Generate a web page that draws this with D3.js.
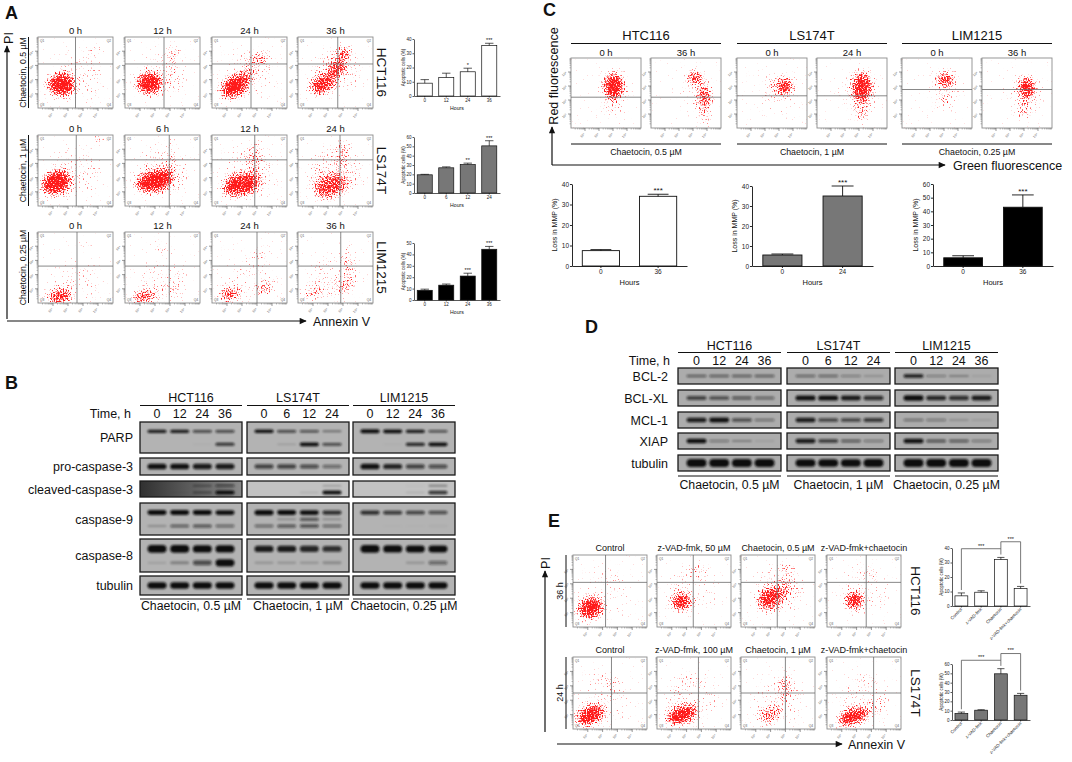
<!DOCTYPE html>
<html lang="en">
<head>
<meta charset="UTF-8">
<title>Chaetocin induces apoptosis</title>
<style>
  body { margin: 0; background: #fff; }
  svg text { font-family: "Liberation Sans", Arial, sans-serif; }
</style>
</head>
<body>
<script src="https://cdn.jsdelivr.net/npm/d3@7"></script>
<script>
// ---------- data ----------
const cellLines = ["HCT116", "LS174T", "LIM1215"];
const dosesA = ["Chaetocin, 0.5 µM", "Chaetocin, 1 µM", "Chaetocin, 0.25 µM"];
const timesA = [["0 h", "12 h", "24 h", "36 h"], ["0 h", "6 h", "12 h", "24 h"], ["0 h", "12 h", "24 h", "36 h"]];
const laneLabels = [["0", "12", "24", "36"], ["0", "6", "12", "24"], ["0", "12", "24", "36"]];

// flow gates (log decades)
const gateXA = [[2.5, 2.6, 2.6, 2.65], [2.55, 2.95, 2.85, 2.8], [2.6, 2.95, 3.0, 2.85]];
const gateYA = [3.1, 3.25, 2.6];
// event clouds: [annexin, PI, spreadX, spreadY, density, tilt]
const flowA = [
  [
    [[1.55, 1.65, .9, .8, 1, 0], [3.9, 4.05, .35, .2, .8, 0], [2.75, 2.2, 1.6, 1.8, .16, 0]],
    [[1.6, 1.75, .85, .75, 1, -10], [3.3, 4.0, .6, .15, .9, 0], [3.15, 2.5, .25, 1.25, .28, 0], [2.5, 2.3, 1.5, 1.7, .14, 0]],
    [[1.5, 1.5, 1.0, .7, 1, -30], [2.4, 2.45, .6, .4, .55, -30], [3.2, 3.5, .5, .3, .8, 0], [2.6, 2.5, 1.6, 1.7, .16, 0]],
    [[1.6, 1.65, .9, .6, .9, -30], [2.6, 2.8, .6, .6, .8, 0], [3.05, 3.85, .45, .45, .8, 0], [2.6, 2.6, 1.6, 1.6, .18, 0]]
  ],
  [
    [[1.2, 1.65, 1.0, .8, 1, -25], [4.1, 4.7, .4, .15, 1, 0], [2.5, 2.3, 1.7, 1.8, .16, 0]],
    [[1.95, 1.75, 1.3, .7, 1, -15], [3.05, 4.4, .35, .12, .9, 0], [3.0, 2.5, .3, 1.2, .32, 0], [2.5, 2.4, 1.8, 1.8, .18, 0]],
    [[1.95, 1.5, 1.3, .75, .9, -15], [2.85, 3.25, .3, .9, .45, 0], [2.95, 4.3, .25, .15, .9, 0], [2.5, 2.4, 1.8, 1.8, .18, 0]],
    [[2.15, 1.4, 1.2, .8, .7, -25], [2.95, 3.5, .25, 1.0, .5, 0], [3.05, 4.4, .25, .2, .8, 0], [2.5, 2.4, 1.8, 1.8, .2, 0]]
  ],
  [
    [[1.45, .45, .85, .45, .9, -10], [3.0, 3.95, .5, .15, .4, 0], [2.5, 1.5, 1.6, 1.5, .14, 0]],
    [[1.25, .45, .85, .4, .8, -10], [2.6, 3.85, .7, .15, .7, 0], [3.05, .95, .5, .35, .35, 0], [2.5, 1.5, 1.6, 1.5, .14, 0]],
    [[1.15, .6, .7, .4, .85, 0], [3.55, 1.05, .6, .35, .6, -20], [3.3, 3.6, .4, .4, .35, 0], [2.5, 1.8, 1.6, 1.6, .14, 0]],
    [[1.0, .7, .8, .4, .5, -15], [3.05, 1.15, .6, .35, .5, -20], [3.35, 2.8, .2, 1.3, .55, 0], [2.5, 1.8, 1.6, 1.6, .16, 0]]
  ]
];

const hoursA = laneLabels;
const apoptoticA = [[9, 13, 17, 35.5], [19.5, 27, 30.5, 50.5], [8.5, 13, 21, 44.5]];
const apoptoticErrA = [[2.5, 3, 2.5, 1.5], [0.5, 1, 1.5, 5.5], [1, 1, 2.5, 2.5]];
const signifA = [["", "", "*", "***"], ["", "", "**", "***"], ["", "", "***", "***"]];
const yMaxA = [40, 60, 50];

// panel C
const mmpLines = ["HTC116", "LS174T", "LIM1215"];
const mmpTimes = [["0 h", "36 h"], ["0 h", "24 h"], ["0 h", "36 h"]];
const mmpGateY = [2.2, 2.2, 2.3, 2.3, 2.75, 2.75];
const flowC = [
  [[3.05, 3.0, .7, .9, 1, 0], [3.1, 1.5, .35, 1.1, .3, 0], [3.0, 2.6, 1.2, 1.5, .1, 0]],
  [[3.15, 3.6, .5, .5, .9, 0], [3.8, 2.25, .4, .9, .85, 0], [3.8, 1.0, .35, .8, .4, 0], [3.3, 2.5, 1.2, 1.5, .1, 0]],
  [[3.45, 3.0, .45, .6, 1, 0], [2.7, 2.8, .6, .6, .3, 0], [3.0, 2.5, 1.4, 1.6, .12, 0]],
  [[3.2, 2.9, .7, 1.1, .9, 0], [3.2, 1.05, .5, .7, .45, 0], [3.0, 2.5, 1.4, 1.6, .12, 0]],
  [[3.1, 3.45, .65, .4, 1, 0], [3.1, 2.0, .45, .7, .3, 0], [3.0, 2.8, 1.3, 1.4, .1, 0]],
  [[3.2, 2.85, .6, .75, .95, 0], [3.0, 1.3, .45, .8, .45, 0], [3.0, 2.6, 1.3, 1.5, .1, 0]]
];
const mmpHours = [["0", "36"], ["0", "24"], ["0", "36"]];
const mmpLoss = [[7.5, 34], [5.5, 35], [6, 43]];
const mmpErr = [[0.5, 1], [0.5, 5], [1.5, 9]];
const mmpYMax = [40, 40, 60];

// panel B
const proteinsB = ["PARP", "pro-caspase-3", "cleaved-caspase-3", "caspase-9", "caspase-8", "tubulin"];
const parpB = [[[.8, .8, .6, .6], [.85, .6, .55, .35], [1, .9, .8, .55]], [[0, 0, .05, .7], [0, .15, .95, .6], [0, .05, .75, .9]]];
const proCasp3B = [[[.85, .85, .8, .8], [.6, .6, .55, .4], [.85, .75, .6, .55]]];
const clCasp3B = [[[0, 0, .3, .5], [0, 0, 0, .2], [0, 0, .05, .3]], [[0, .05, .35, .95], [0, 0, .1, .85], [0, 0, .1, .7]]];
const casp9B = [[[.9, .9, .9, .85], [.95, .9, .85, .7], [.7, .65, .6, .55]], [[0, 0, 0, 0], [0, .2, .5, .2], [0, 0, 0, 0]], [[.2, .45, .5, .4], [.4, .5, .55, .4], [0, .03, .03, .05]]];
const casp8B = [[[1, 1, .95, .95], [.8, .8, .75, .7], [1, .95, .9, .9]], [[.1, .25, .55, .95], [.15, .15, .15, .2], [0, 0, .15, .4]]];
const tubulinB = [[[.9, .9, .9, .9], [.9, .9, .9, .9], [.9, .9, .9, .9]]];

// panel D
const proteinsD = ["BCL-2", "BCL-XL", "MCL-1", "XIAP", "tubulin"];
const bcl2D = [[[.45, .45, .45, .45], [.4, .4, .3, .2], [.8, .3, .25, .1]]];
const bclxlD = [[[.6, .55, .45, .4], [.85, .85, .8, .7], [.9, .75, .7, .8]]];
const mcl1D = [[[.8, .85, .55, .35], [.8, .6, .6, .65], [.35, .3, .15, .12]]];
const xiapD = [[[.9, .3, .25, .1], [.8, .65, .45, .3], [.85, .5, .45, .3]]];
const tubulinD = [[[.95, .95, .95, .95], [.9, .9, .9, .95], [.95, .95, .95, .95]]];

// panel E
const zvadTitles = [["Control", "z-VAD-fmk, 50 µM", "Chaetocin, 0.5 µM", "z-VAD-fmk+chaetocin"],
                    ["Control", "z-VAD-fmk, 100 µM", "Chaetocin, 1 µM", "z-VAD-fmk+chaetocin"]];
const zvadLines = ["HCT116", "LS174T"];
const zvadTimes = ["36 h", "24 h"];
const zvadGateX = [[2.2, 2.45, 2.45, 2.65], [2.6, 2.8, 3.0, 3.15]];
const zvadGateY = [3.1, 2.5];
const flowE = [
  [
    [[1.15, 1.3, .85, .7, 1, -20], [2.65, 4.1, .8, .12, .35, 0], [2.2, 2.2, 1.7, 1.7, .12, 0]],
    [[1.65, 1.75, .65, .55, 1, -20], [2.7, 3.95, .55, .2, .6, 0], [2.4, 2.6, 1.6, 1.7, .14, 0]],
    [[1.95, 2.0, .9, .7, .85, -35], [3.15, 4.1, .4, .2, .7, 0], [3.05, 2.65, .35, .75, .45, 0], [2.6, 2.6, 1.7, 1.7, .18, 0]],
    [[1.85, 1.85, .6, .55, 1, -20], [2.85, 3.85, .6, .15, .55, 0], [2.5, 2.6, 1.6, 1.7, .12, 0]]
  ],
  [
    [[1.15, .95, 1.0, .6, 1, -25], [1.85, 3.55, .8, .15, .35, 0], [2.65, 2.85, .2, .6, .3, 0], [2.2, 2.0, 1.7, 1.7, .14, 0]],
    [[1.65, .95, 1.1, .55, 1, -20], [2.3, 3.55, 1.0, .15, .4, 0], [2.4, 2.0, 1.8, 1.7, .16, 0]],
    [[1.95, .95, .9, .5, .55, -25], [3.0, 3.0, .2, 1.1, .65, 0], [2.5, 2.0, 1.7, 1.7, .16, 0]],
    [[1.75, .85, 1.1, .5, 1, -20], [3.15, 1.55, .9, .15, .6, -30], [2.75, 3.55, .8, .15, .4, 0], [2.5, 2.0, 1.7, 1.7, .14, 0]]
  ]
];
const zvadGroups = ["Control", "z-VAD-fmk", "Chaetocin", "z-VAD-fmk+chaetocin"];
const zvadApop = [[7, 9.5, 32, 12], [7, 10.5, 49.5, 26.5]];
const zvadErr = [[2, 1, 1.5, 1.5], [1.5, 0.5, 5.5, 2]];
const zvadYMax = [40, 60];

const flowTicks = [1, 2, 3, 4];
const flowTickLabels = ["10¹", "10²", "10³", "10⁴"];

// ---------- drawing ----------
const svg = d3.select('body').append('svg').attr('width', 1072).attr('height', 762).style('display', 'block');
const defs = svg.append('defs');

defs.append('marker').attr('id', 'arrow').attr('viewBox', '0 0 10 10')
  .attr('refX', 9).attr('refY', 5).attr('markerWidth', 8).attr('markerHeight', 7)
  .attr('markerUnits', 'userSpaceOnUse').attr('orient', 'auto')
  .append('path').attr('d', 'M0,0.5 L10,5 L0,9.5 Z').attr('fill', '#111');

// grainy red clouds for the dot plots: blurred density x grain, thresholded
[0, 1, 2, 3].forEach(k => {
  const f = defs.append('filter').attr('id', 'speck' + k).attr('filterUnits', 'userSpaceOnUse')
    .attr('x', -10).attr('y', -10).attr('width', 100).attr('height', 100)
    .attr('color-interpolation-filters', 'sRGB');
  f.append('feGaussianBlur').attr('in', 'SourceGraphic').attr('stdDeviation', 4).attr('result', 'b');
  f.append('feTurbulence').attr('type', 'fractalNoise').attr('baseFrequency', 0.75)
    .attr('numOctaves', 1).attr('seed', 3 + k * 7).attr('result', 'n');
  f.append('feColorMatrix').attr('in', 'n').attr('type', 'matrix')
    .attr('values', '0 0 0 0 1  0 0 0 0 0  0 0 0 0 0  2 0 0 0 -0.5').attr('result', 'na');
  f.append('feComposite').attr('in', 'b').attr('in2', 'na').attr('operator', 'arithmetic')
    .attr('k1', 0).attr('k2', 1).attr('k3', 1).attr('k4', -0.95).attr('result', 'c');
  f.append('feColorMatrix').attr('in', 'c').attr('type', 'matrix')
    .attr('values', '0 0 0 0 1  0 0 0 0 0.1  0 0 0 0 0.1  0 0 0 3 0');
});

const bandBlur = defs.append('filter').attr('id', 'bandBlur')
  .attr('x', '-50%').attr('y', '-150%').attr('width', '200%').attr('height', '400%');
bandBlur.append('feGaussianBlur').attr('stdDeviation', 0.9);

const darkBlot = defs.append('linearGradient').attr('id', 'darkBlot');
darkBlot.append('stop').attr('offset', '0%').attr('stop-color', '#303030');
darkBlot.append('stop').attr('offset', '100%').attr('stop-color', '#8a8a8a');

function txt(parent, x, y, s, size, o = {}) {
  const t = parent.append('text').attr('x', x).attr('y', y).attr('font-size', size)
    .attr('fill', o.fill || '#111').text(s);
  if (o.anchor) t.attr('text-anchor', o.anchor);
  if (o.rotate) t.attr('transform', `rotate(${o.rotate} ${x} ${y})`);
  if (o.weight) t.attr('font-weight', o.weight);
  return t;
}
function line(x1, y1, x2, y2, w = 1, c = '#111', arrow = false) {
  const l = svg.append('line').attr('x1', x1).attr('y1', y1).attr('x2', x2).attr('y2', y2)
    .attr('stroke', c).attr('stroke-width', w);
  if (arrow) l.attr('marker-end', 'url(#arrow)');
  return l;
}

let plotN = 0;
function flowPlot(left, top, w, h, clusters, gx, gy, quads) {
  const x = d3.scaleLinear().domain([0, 5]).range([0, w]);
  const y = d3.scaleLinear().domain([0, 5]).range([h, 0]);
  const g = svg.append('g').attr('transform', `translate(${left},${top})`);
  const id = 'fc' + plotN;
  defs.append('clipPath').attr('id', id).append('rect').attr('width', w).attr('height', h);
  g.append('g').attr('clip-path', `url(#${id})`)
    .append('g').attr('filter', `url(#speck${plotN % 4})`)
    .selectAll('ellipse').data(clusters).join('ellipse')
    .attr('cx', d => x(d[0])).attr('cy', d => y(d[1]))
    .attr('rx', d => x(d[2]) - x(0)).attr('ry', d => y(0) - y(d[3]))
    .attr('transform', d => `rotate(${d[5]} ${x(d[0])} ${y(d[1])})`)
    .attr('fill', '#ff0000').attr('fill-opacity', d => d[4]);
  plotN++;

  g.append('rect').attr('width', w).attr('height', h).attr('fill', 'none')
    .attr('stroke', '#8c8c8c').attr('stroke-width', 0.9);
  if (gx != null) g.append('line').attr('x1', x(gx)).attr('x2', x(gx)).attr('y1', 0).attr('y2', h)
    .attr('stroke', '#6a6a6a').attr('stroke-width', 0.8);
  if (gy != null) g.append('line').attr('x1', 0).attr('x2', w).attr('y1', y(gy)).attr('y2', y(gy))
    .attr('stroke', '#6a6a6a').attr('stroke-width', 0.8);

  const minor = d3.range(0, 5).flatMap(d => [2, 3, 4, 5, 6, 7, 8, 9].map(k => d + Math.log10(k)));
  g.selectAll(null).data(minor).join('line')
    .attr('x1', d => x(d)).attr('x2', d => x(d)).attr('y1', h).attr('y2', h + 1.5)
    .attr('stroke', '#777').attr('stroke-width', 0.5);
  g.selectAll(null).data(flowTicks).join('line')
    .attr('x1', d => x(d)).attr('x2', d => x(d)).attr('y1', h).attr('y2', h + 3)
    .attr('stroke', '#555').attr('stroke-width', 0.6);
  g.selectAll(null).data(minor).join('line')
    .attr('y1', d => y(d)).attr('y2', d => y(d)).attr('x1', 0).attr('x2', -1.5)
    .attr('stroke', '#777').attr('stroke-width', 0.5);
  g.selectAll(null).data(flowTicks).join('line')
    .attr('y1', d => y(d)).attr('y2', d => y(d)).attr('x1', 0).attr('x2', -3)
    .attr('stroke', '#555').attr('stroke-width', 0.6);
  flowTicks.forEach((t, i) => {
    txt(g, x(t), h + 6.5, flowTickLabels[i], 3.4, {anchor: 'end', rotate: -45, fill: '#555'});
    txt(g, -4, y(t) + 1, flowTickLabels[i], 3.4, {anchor: 'end', rotate: -45, fill: '#555'});
  });
  if (quads) {
    txt(g, 2, 4.5, 'Q1', 3.2, {fill: '#555'});
    txt(g, w - 2, 4.5, 'Q2', 3.2, {anchor: 'end', fill: '#555'});
    txt(g, 2, h - 2, 'Q3', 3.2, {fill: '#555'});
    txt(g, w - 2, h - 2, 'Q4', 3.2, {anchor: 'end', fill: '#555'});
  }
}

function barChart(o) {
  const x = d3.scaleBand().domain(o.cats).range([0, o.w]).paddingInner(o.pad).paddingOuter(o.outer);
  const y = d3.scaleLinear().domain([0, o.yMax]).range([o.h, 0]);
  const g = svg.append('g').attr('transform', `translate(${o.left},${o.top})`);
  const ya = g.append('g').call(d3.axisLeft(y).tickValues(d3.range(0, o.yMax + 1, 10))
    .tickSize(o.tick).tickSizeOuter(0).tickPadding(1));
  const xa = g.append('g').attr('transform', `translate(0,${o.h})`)
    .call(d3.axisBottom(x).tickSize(o.tick).tickSizeOuter(0).tickPadding(1));
  [ya, xa].forEach(a => {
    a.attr('font-size', null).attr('font-family', null);
    a.select('.domain').attr('stroke', '#111').attr('stroke-width', o.sw);
    a.selectAll('.tick line').attr('stroke', '#111').attr('stroke-width', o.sw);
    a.selectAll('text').attr('font-size', o.fs).attr('fill', '#222');
  });
  if (o.rotateCats) {
    xa.selectAll('text').attr('text-anchor', 'end').attr('dx', '-0.4em').attr('dy', '0.2em')
      .attr('transform', 'rotate(-45)');
  }
  const cx = i => x(o.cats[i]) + x.bandwidth() / 2;
  g.selectAll('rect.bar').data(o.vals).join('rect').attr('class', 'bar')
    .attr('x', (d, i) => x(o.cats[i])).attr('y', d => y(d))
    .attr('width', x.bandwidth()).attr('height', d => o.h - y(d))
    .attr('fill', o.fill).attr('stroke', '#111').attr('stroke-width', o.sw);
  o.vals.forEach((v, i) => {
    const top = y(v + o.errs[i]);
    g.append('line').attr('x1', cx(i)).attr('x2', cx(i)).attr('y1', y(v)).attr('y2', top)
      .attr('stroke', '#111').attr('stroke-width', o.sw);
    g.append('line').attr('x1', cx(i) - x.bandwidth() * 0.28).attr('x2', cx(i) + x.bandwidth() * 0.28)
      .attr('y1', top).attr('y2', top).attr('stroke', '#111').attr('stroke-width', o.sw);
    if (o.stars && o.stars[i]) txt(g, cx(i), top - 1.2, o.stars[i], o.starFs, {anchor: 'middle'});
  });
  txt(g, -o.yLabOff, o.h / 2, o.yLabel, o.labFs, {anchor: 'middle', rotate: -90});
  if (o.xLabel) txt(g, o.w / 2, o.h + o.xLabOff, o.xLabel, o.xFs, {anchor: 'middle'});
  return {g, x, y, cx};
}

function blot(x0, y0, w, h, forms, ci, lx, lanes, thick, bg, bandW) {
  svg.append('rect').attr('x', x0).attr('y', y0).attr('width', w).attr('height', h)
    .attr('fill', bg).attr('stroke', '#1a1a1a').attr('stroke-width', 1.3);
  const fy = forms.length === 1 ? () => y0 + h / 2
    : d3.scalePoint().domain(d3.range(forms.length)).range([y0 + h * 0.3, y0 + h * 0.72]);
  forms.forEach((form, fi) => {
    form[ci].forEach((v, i) => {
      if (v <= 0) return;
      const ry = (0.8 + 2.8 * v) * thick;
      svg.append('rect').attr('x', lx(lanes[i]) - bandW / 2).attr('y', fy(fi) - ry)
        .attr('width', bandW).attr('height', 2 * ry).attr('rx', ry).attr('ry', ry)
        .attr('fill', '#111').attr('fill-opacity', Math.min(1, v * 1.15))
        .attr('filter', 'url(#bandBlur)');
    });
  });
}

function westernPanel(p) {
  cellLines.forEach((cl, ci) => {
    const bx = p.boxX[ci];
    txt(svg, bx + p.boxW / 2, p.titleY, cl, 12.5, {anchor: 'middle'});
    line(bx, p.lineY, bx + p.boxW, p.lineY, 1);
    const lx = d3.scalePoint().domain(laneLabels[ci])
      .range([bx + p.boxW * p.laneRange[0], bx + p.boxW * p.laneRange[1]]);
    laneLabels[ci].forEach(l => txt(svg, lx(l), p.laneY, l, 12.5, {anchor: 'middle'}));
    p.proteins.forEach((pr, ri) => {
      blot(bx, p.rows[ri][0], p.boxW, p.rows[ri][1], p.bands[ri], ci, lx, laneLabels[ci],
        p.thick[ri], p.bg(ri, ci), p.bandW);
    });
    line(bx, p.bottomY, bx + p.boxW, p.bottomY, 1);
    txt(svg, bx + p.boxW / 2, p.doseY, dosesA[ci], 12.3, {anchor: 'middle'});
  });
  txt(svg, p.timeX, p.laneY, 'Time, h', 12.5, {anchor: 'end'});
  p.proteins.forEach((pr, ri) => txt(svg, p.labelX, p.rows[ri][0] + p.rows[ri][1] / 2 + 4.5, pr, 12.5, {anchor: 'end'}));
}

// ===== Panel A =====
txt(svg, 5, 19, 'A', 18, {weight: 'bold'});
const aLeft = [38, 125, 212, 298], aTop = [37, 135, 232], aW = 75, aH = 71;
cellLines.forEach((cl, r) => {
  timesA[r].forEach((t, c) => {
    flowPlot(aLeft[c], aTop[r], aW, aH, flowA[r][c], gateXA[r][c], gateYA[r], true);
    txt(svg, aLeft[c] + aW / 2, aTop[r] - 3, t, 9.5, {anchor: 'middle'});
  });
  const cy = aTop[r] + aH / 2;
  txt(svg, 26, cy, dosesA[r], 8.7, {anchor: 'middle', rotate: -90});
  line(28.5, aTop[r], 28.5, aTop[r] + aH, 1);
  txt(svg, 377, cy, cl, 13.5, {anchor: 'middle', rotate: 90});
});
line(7, 319, 7, 46, 1.2, '#111', true);
txt(svg, 13, 38, 'PI', 12.5, {anchor: 'middle', rotate: -90});
line(7, 321, 306, 321, 1.2, '#111', true);
txt(svg, 313, 325.5, 'Annexin V', 12.5);

const aBarTop = [39, 137, 243], aBarH = [57, 56, 57], aFill = ['#fff', '#777', '#000'];
cellLines.forEach((cl, r) => {
  barChart({
    left: 414, top: aBarTop[r], w: 86, h: aBarH[r], cats: hoursA[r], vals: apoptoticA[r],
    errs: apoptoticErrA[r], stars: signifA[r], yMax: yMaxA[r], fill: aFill[r],
    pad: 0.3, outer: 0.15, tick: 1.5, sw: 0.7, fs: 4.5, starFs: 5.5,
    yLabel: 'Apoptotic cells (%)', yLabOff: 9.5, labFs: 4.5, xLabel: 'Hours', xLabOff: 13.5, xFs: 5.2
  });
});

// ===== Panel B =====
txt(svg, 5, 389, 'B', 18, {weight: 'bold'});
westernPanel({
  boxX: [140, 247, 353], boxW: 102, laneRange: [0.167, 0.833], bandW: 19,
  rows: [[422, 31], [458, 17], [481, 16], [503, 32], [539, 33], [576, 19]],
  proteins: proteinsB, bands: [parpB, proCasp3B, clCasp3B, casp9B, casp8B, tubulinB],
  thick: [0.55, 0.9, 0.6, 0.75, 1.05, 0.95],
  bg: (ri, ci) => (ri === 2 && ci === 0) ? 'url(#darkBlot)' : (ri === 2 ? '#c2c2c2' : '#b3b3b3'),
  titleY: 402, lineY: 405.5, laneY: 417.5, timeX: 131, labelX: 133, bottomY: 599, doseY: 610
});

// ===== Panel C =====
txt(svg, 543, 16, 'C', 18, {weight: 'bold'});
const cLeft = [571, 651, 737, 817, 902, 982], cTop = 58, cW = 70, cH = 70;
cLeft.forEach((lx, i) => {
  flowPlot(lx, cTop, cW, cH, flowC[i], null, mmpGateY[i], false);
  txt(svg, lx + cW / 2, 55.5, mmpTimes[Math.floor(i / 2)][i % 2], 9.5, {anchor: 'middle'});
});
mmpLines.forEach((cl, k) => {
  const x0 = cLeft[2 * k], x1 = cLeft[2 * k + 1] + cW;
  txt(svg, (x0 + x1) / 2, 40, cl, 13, {anchor: 'middle'});
  line(x0, 43.5, x1, 43.5, 1);
  line(x0, 144, x1, 144, 1);
  txt(svg, (x0 + x1) / 2, 155, dosesA[k], 8.8, {anchor: 'middle'});
});
line(552, 165, 552, 127, 1.2, '#111', true);
txt(svg, 558, 76, 'Red fluorescence', 12.5, {anchor: 'middle', rotate: -90});
line(552, 165, 945, 165, 1.2, '#111', true);
txt(svg, 953, 169.5, 'Green fluorescence', 12.5);

const cBars = [{left: 572, top: 184, w: 115, h: 82}, {left: 752, top: 186, w: 121, h: 80}, {left: 933, top: 184, w: 120, h: 82}];
const cFill = ['#fff', '#777', '#000'];
cBars.forEach((b, k) => {
  barChart(Object.assign({}, b, {
    cats: mmpHours[k], vals: mmpLoss[k], errs: mmpErr[k], stars: ['', '***'], yMax: mmpYMax[k], fill: cFill[k],
    pad: 0.35, outer: 0.18, tick: 2, sw: 0.9, fs: 6.5, starFs: 8,
    yLabel: 'Loss in MMP (%)', yLabOff: 15, labFs: 7, xLabel: 'Hours', xLabOff: 19, xFs: 7.5
  }));
});

// ===== Panel D =====
txt(svg, 585, 333, 'D', 18, {weight: 'bold'});
westernPanel({
  boxX: [678, 787, 895], boxW: 103, laneRange: [0.18, 0.84], bandW: 20,
  rows: [[368, 16], [390, 16], [412, 16], [433, 16], [455, 16]],
  proteins: proteinsD, bands: [bcl2D, bclxlD, mcl1D, xiapD, tubulinD],
  thick: [0.6, 0.8, 0.75, 0.7, 1.15],
  bg: () => '#acacac',
  titleY: 349.5, lineY: 352.5, laneY: 364.5, timeX: 670, labelX: 668, bottomY: 476, doseY: 488.5
});

// ===== Panel E =====
txt(svg, 548, 527, 'E', 18, {weight: 'bold'});
const eLeft = [573, 657, 741, 827], eTop = [555, 657], eW = 74, eH = 72;
zvadLines.forEach((cl, r) => {
  zvadTitles[r].forEach((t, c) => {
    flowPlot(eLeft[c], eTop[r], eW, eH, flowE[r][c], zvadGateX[r][c], zvadGateY[r], true);
    txt(svg, eLeft[c] + eW / 2, eTop[r] - 4, t, 9, {anchor: 'middle'});
  });
  const cy = eTop[r] + eH / 2;
  txt(svg, 563, cy, zvadTimes[r], 9, {anchor: 'middle', rotate: -90});
  line(566, eTop[r], 566, eTop[r] + eH, 1);
  txt(svg, 911, cy, cl, 13.5, {anchor: 'middle', rotate: 90});
});
line(545, 732, 545, 571, 1.2, '#111', true);
txt(svg, 550, 563, 'PI', 12.5, {anchor: 'middle', rotate: -90});
line(557, 744, 842, 744, 1.2, '#111', true);
txt(svg, 848, 748.5, 'Annexin V', 12.5);

const eBarTop = [548, 664], eBarH = [58, 56], eFill = ['#fff', '#777'];
zvadLines.forEach((cl, r) => {
  const c = barChart({
    left: 952, top: eBarTop[r], w: 78, h: eBarH[r], cats: zvadGroups, vals: zvadApop[r], errs: zvadErr[r],
    stars: null, yMax: zvadYMax[r], fill: eFill[r], pad: 0.35, outer: 0.15, tick: 1.5, sw: 0.7,
    fs: 4.5, starFs: 5.5, rotateCats: true, yLabel: 'Apoptotic cells (%)', yLabOff: 9.5, labFs: 4.5
  });
  const ym = zvadYMax[r];
  const top = i => zvadApop[r][i] + zvadErr[r][i];
  const lvl1 = top(2) + 0.15 * ym, lvl2 = lvl1 + 0.12 * ym;
  const br = [[0, 2, lvl1, top(0) + 0.05 * ym, top(2) + 0.05 * ym], [2, 3, lvl2, lvl1, top(3) + 0.05 * ym]];
  br.forEach(([a, b, lv, la, lb]) => {
    c.g.append('path')
      .attr('d', `M${c.cx(a)},${c.y(la)}V${c.y(lv)}H${c.cx(b)}V${c.y(lb)}`)
      .attr('fill', 'none').attr('stroke', '#555').attr('stroke-width', 0.8);
    txt(c.g, (c.cx(a) + c.cx(b)) / 2, c.y(lv) - 1.2, '***', 5.5, {anchor: 'middle'});
  });
});
</script>
</body>
</html>
